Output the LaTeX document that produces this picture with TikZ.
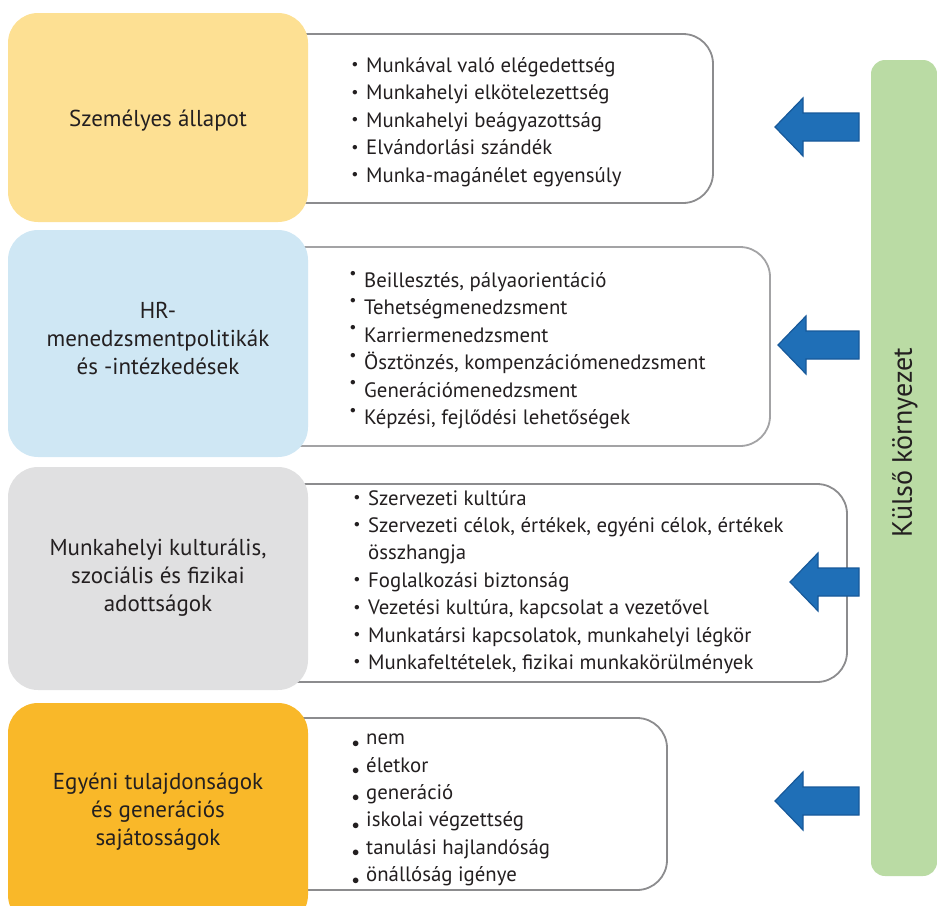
\documentclass[tikz,border=0pt]{standalone}
\usepackage{fontspec}
\setmainfont{PT Sans}
\definecolor{cyel}{HTML}{FDE093}
\definecolor{cblu}{HTML}{CFE7F4}
\definecolor{cgry}{HTML}{E0E0E1}
\definecolor{cora}{HTML}{F9B829}
\definecolor{cgrn}{HTML}{BADBA4}
\definecolor{carr}{HTML}{1F6FB7}
\definecolor{carrd}{HTML}{17599A}
\definecolor{cstr}{HTML}{8C8C8E}
\definecolor{ctxt}{HTML}{231F20}
\newcommand\bA{\makebox[14pt][l]{\raisebox{0.22em}{\scalebox{0.55}{$\bullet$}}}}
\newcommand\bB{\makebox[14pt][l]{\raisebox{0.55em}{\scalebox{0.55}{$\bullet$}}}}
\newcommand\bC{\makebox[14pt][l]{\raisebox{-0.12em}{\scalebox{0.7}{$\bullet$}}}}
\newcommand\bI{\makebox[14pt][l]{}}
\begin{document}
\begin{tikzpicture}[x=1pt,y=-1pt,
  wbox/.style={draw=cstr, line width=1.8pt, fill=white, rounded corners=30pt},
  cbox/.style={rounded corners=30pt},
  lbl/.style={align=center, text=ctxt, font=\fontsize{23}{28}\selectfont, inner sep=0pt},
  lst/.style={align=left, text=ctxt, font=\fontsize{20.8}{27.4}\selectfont, inner sep=0pt, anchor=west},
  barr/.style={fill=carr, draw=carrd, line width=1.2pt, line join=miter}]
\useasboundingbox (0,0) rectangle (937,905);
\clip (0,0) rectangle (937,905);
% white boxes
\draw[wbox] (250,34) rectangle (713,203);
\draw[wbox, draw=cstr!80] (250,247) rectangle (770,446);
\draw[wbox] (250,484) rectangle (847,682);
\draw[wbox] (250,718) rectangle (667,890);
% coloured boxes
\fill[cyel, cbox] (8,13) rectangle (308,222);
\fill[cblu, cbox] (8,230) rectangle (308,457);
\fill[cgry, cbox] (8,467) rectangle (308,690);
\fill[cora, cbox] (8,703) rectangle (308,925);
% green bar
\fill[cgrn, rounded corners=14pt] (871,60) rectangle (937,876);
\node[rotate=90, text=ctxt, font=\fontsize{28}{32}\selectfont] (ke) at (905,443) {Külső környezet};
% labels
\node[lbl] (l1) at (158,121) {Személyes állapot};
\node[lbl] (l2) at (158,338) {HR-\\menedzsmentpolitikák\\és -intézkedések};
\node[lbl] (l3) at (158,578) {Munkahelyi kulturális,\\szociális és fizikai\\adottságok};
\node[lbl] (l4) at (158,812) {Egyéni tulajdonságok\\és generációs\\sajátosságok};
% lists
\node[lst] (t1) at (352,122) {\bA Munkával való elégedettség\\\bA Munkahelyi elkötelezettség\\\bA Munkahelyi beágyazottság\\\bA Elvándorlási szándék\\\bA Munka-magánélet egyensúly};
\node[lst] (t2) at (350,350) {\bB Beillesztés, pályaorientáció\\\bB Tehetségmenedzsment\\\bB Karriermenedzsment\\\bB Ösztönzés, kompenzációmenedzsment\\\bB Generációmenedzsment\\\bB Képzési, fejlődési lehetőségek};
\node[lst] (t3) at (354,582) {\bA Szervezeti kultúra\\\bA Szervezeti célok, értékek, egyéni célok, értékek\\\bI összhangja\\\bA Foglalkozási biztonság\\\bA Vezetési kultúra, kapcsolat a vezetővel\\\bA Munkatársi kapcsolatok, munkahelyi légkör\\\bA Munkafeltételek, fizikai munkakörülmények};
\node[lst] (t4) at (352,810) {\bC nem\\\bC életkor\\\bC generáció\\\bC iskolai végzettség\\\bC tanulási hajlandóság\\\bC önállóság igénye};
% block arrows
\foreach \tx/\cy/\nm in {775/127/a1, 778/345/a2, 790/582/a3, 775/801/a4}{
  \draw[barr] (\tx,\cy) -- ++(28,-29) -- ++(0,15) -- (859,\cy-14) -- (859,\cy+14) -- (\tx+28,\cy+14) -- ++(0,15) -- cycle;
}
\end{tikzpicture}
\end{document}
